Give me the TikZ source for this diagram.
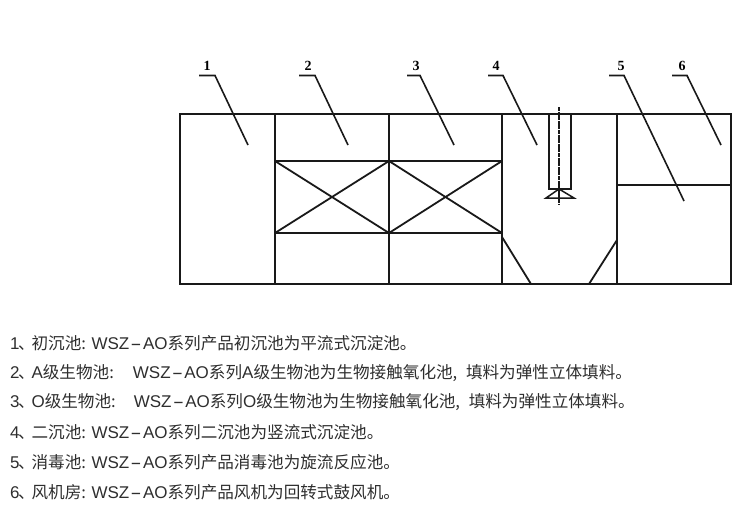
\documentclass[tikz,border=0pt]{standalone}
\usepackage{fontspec}
\setmainfont{Liberation Serif}
\newfontfamily\cjkfont{Noto Sans CJK SC}
\newfontfamily\latfont{Liberation Sans}
\newcommand{\lat}[1]{{\latfont\fontsize{17}{17}\selectfont #1}}
\newcommand{\wsz}{\lat{WSZ\kern1.2pt\scalebox{2}[1]{-}\kern1.2pt AO}}
\tikzset{
  wall/.style={line width=1.8pt,black!90},
  thin wall/.style={line width=1.5pt,black!90},
  leader/.style={line width=1.6pt,black!90},
  numlabel/.style={inner sep=0pt,font=\bfseries\fontsize{14}{14}\selectfont},
  note/.style={anchor=west,inner sep=0pt,text=black!82,font=\cjkfont\fontsize{16.6}{17}\selectfont}
}
\begin{document}
\begin{tikzpicture}[x=1pt,y=-1pt]
\useasboundingbox (0,0) rectangle (744,507);
% walls
\draw[wall] (180,114) rectangle (731,284);
\draw[wall] (275,114) -- (275,284);
\draw[wall] (389,114) -- (389,284);
\draw[wall] (502,114) -- (502,284);
\draw[wall] (617,114) -- (617,284);
\draw[wall] (275,161) -- (502,161);
\draw[wall] (275,233) -- (502,233);
\draw[wall] (617,185) -- (731,185);
% media crosses
\draw[wall] (275,161) -- (389,233) (275,233) -- (389,161);
\draw[wall] (389,161) -- (502,233) (389,233) -- (502,161);
% hoppers
\draw[wall] (502,237) -- (531,284);
\draw[wall] (617,240) -- (589,284);
% centre tube and deflector
\draw[thin wall] (549,114) -- (549,189) -- (571,189) -- (571,114);
\draw[thin wall,dash pattern=on 4pt off 0.6pt] (559,107) -- (559,205);
\draw[thin wall] (546,198) -- (574,198) -- (559,189) -- cycle;
% labels and leaders
\node[numlabel] (n1) at (207,66) {1};
\node[numlabel] (n2) at (308,66) {2};
\node[numlabel] (n3) at (416,66) {3};
\node[numlabel] (n4) at (496,66) {4};
\node[numlabel] (n5) at (621,66) {5};
\node[numlabel] (n6) at (682,66) {6};
\coordinate (e1) at (248,145);
\coordinate (e2) at (348,145);
\coordinate (e3) at (454,145);
\coordinate (e4) at (537,145);
\coordinate (e5) at (684,201);
\coordinate (e6) at (721,145);
\draw[leader] ([xshift=-8pt,yshift=-9.5pt]n1.center) -- ++(16,0) -- (e1);
\draw[leader] ([xshift=-9pt,yshift=-9.5pt]n2.center) -- ++(16,0) -- (e2);
\draw[leader] ([xshift=-9pt,yshift=-9.5pt]n3.center) -- ++(13,0) -- (e3);
\draw[leader] ([xshift=-8pt,yshift=-9.5pt]n4.center) -- ++(15,0) -- (e4);
\draw[leader] ([xshift=-12pt,yshift=-9.5pt]n5.center) -- ++(15,0) -- (e5);
\draw[leader] ([xshift=-10pt,yshift=-9.5pt]n6.center) -- ++(15,0) -- (e6);
% notes
\node[note] (t1) at (10,343) {\lat{1}\kern-1.5pt、\kern-3.2pt 初沉池: \kern0.6pt\wsz 系列产品初沉池为平流式沉淀池。};
\node[note] (t2) at (10,373) {\lat{2}\kern-1.5pt、\kern-3.2pt\lat{A}级生物池:\kern19pt\wsz 系列\lat{A}级生物池为生物接触氧化池, \kern5pt 填料为弹性立体填料。};
\node[note] (t3) at (10,402) {\lat{3}\kern-1.5pt、\kern-3.2pt\lat{O}级生物池:\kern18pt\wsz 系列\lat{O}级生物池为生物接触氧化池, \kern5pt 填料为弹性立体填料。};
\node[note] (t4) at (10,432) {\lat{4}\kern-1.5pt、\kern-3.2pt 二沉池: \kern0.6pt\wsz 系列二沉池为竖流式沉淀池。};
\node[note] (t5) at (10,462) {\lat{5}\kern-1.5pt、\kern-3.2pt 消毒池: \kern0.6pt\wsz 系列产品消毒池为旋流反应池。};
\node[note] (t6) at (10,492) {\lat{6}\kern-1.5pt、\kern-3.2pt 风机房: \kern0.6pt\wsz 系列产品风机为回转式鼓风机。};
\end{tikzpicture}
\end{document}
